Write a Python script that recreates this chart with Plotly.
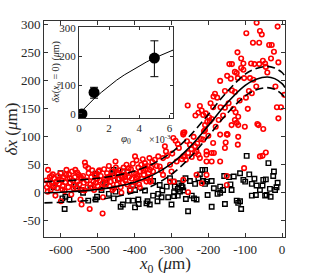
import plotly.graph_objects as go

# ---------------- data ----------------
red_x = [-640, -638, -635, -632, -630, -628, -625, -622, -620, -618, -615, -612, -610, -608, -605,
         -601, -600, -598, -595, -592, -590, -588, -585, -582, -580, -578, -575, -572, -570, -568,
         -565, -562, -561, -558, -555, -552, -550, -547, -545, -544, -542, -540, -538, -535, -533,
         -530, -528, -525, -522, -520, -518, -515, -512, -510, -508, -505, -502, -500, -498, -495,
         -492, -490, -487, -486, -483, -480, -478, -475, -472, -470, -468, -465, -462, -460, -458,
         -455, -452, -451, -448, -445, -442, -440, -438, -435, -432, -430, -428, -425, -422, -420,
         -418, -415, -412, -410, -408, -405, -402, -399, -397, -395, -392, -390, -388, -385, -382,
         -380, -378, -375, -372, -370, -368, -365, -362, -360, -358, -355, -352, -350,
         -69, -12, -97, -60, -55, -79, -62, -35, -28, -22, -121, -111, -143, -136, -105, -84, -75,
         -62, -52, -46, -44, -10, -111, -105, -123, -128, -149, -139, -168, -120, -103, -87, -78,
         -136, -128, -155, -182, -186, -176, -194, -187, -167, -155, -93, -256, -223, -218, -227,
         -214, -235, -207, -198, -203, -191, -126, -119, -128, -137, -119, -101, -67, -51, -3, -10,
         6, -14, -265, -149, -119, -123, -64,
         -148, -153, -120, -191, -185, -205, -205, -191, -60, -53, -44, -103, -150, -150,
         -289, -283, -268, -295, -318, -315, -336, -345, -268, -261, -255, -245, -236, -232, -227,
         -209, -209, -214, -300, -293, -255,
         -268, -250, -323, -372, -386, -359, -332, -304, -286, -264, -236, -223, -205, -187, -168,
         -150, -155, -168, -205, -232, -218, -268, -323, -304, -359, -395,
         -340, -328, -312, -298, -280, -272, -258, -246, -240, -230, -220, -212, -200, -196, -180,
         -172, -160, -145, -132, -115, -98, -90, -82, -70, -40, -30, -18,
         -636, -626, -616, -606, -596, -586, -576, -566, -556, -546, -536, -526, -516, -506, -496,
         -486, -476, -466, -456, -446, -436, -426, -416, -406, -396, -386, -376, -366, -356]
red_y = [22, 10, 41, 15, 28, 5, 18, 33, 12, 25, -5, 20, 8, 30, 16,
         35, -15, 22, 12, 28, 3, 19, 41, 25, 10, 33, 18, -3, 38, 22,
         14, 28, 41, 8, 20, 32, 15, -12, 25, -21, 5, 30, 18, 54, 48,
         22, 10, 35, -29, 15, 28, 40, 20, 5, 32, 18, 25, 12, 38, 22,
         30, 8, -37, 18, 42, 25, 15, 35, 28, 48, 12, 20, 38, 5, 30,
         22, 56, 45, 15, 33, 25, 40, 10, 28, 18, 45, 32, 22, 50, 15,
         38, 28, 5, 42, 25, 52, 35, 65, 20, 58, 30, 45, 15, 38, 50,
         25, 60, 32, 53, 42, 20, 48, 35, 62, 28, 45, 55, 38,
         304, 297, 285, 289, 283, 268, 268, 264, 264, 252, 251, 240, 230, 230, 231, 231, 230,
         230, 236, 231, 225, 233, 223, 220, 214, 216, 209, 204, 200, 205, 205, 205, 202,
         183, 180, 182, 177, 172, 170, 160, 153, 153, 152, 150, 156, 155, 147, 143,
         139, 138, 142, 135, 127, 132, 144, 136, 130, 121, 121, 118, 123, 114, 153, 133,
         175, 153, 108, 105, 100, 125, 121,
         104, 90, 86, 71, 71, 68, 56, 56, 65, 66, 72, 44, 30, 14,
         93, 87, 104, 98, 83, 74, 65, 59, 65, 59, 71, 64, 83, 74, 68,
         121, 112, 95, 38, 20, 1,
         107, 86, 62, 47, 38, 41, 47, 50, 56, 65, 71, 62, 74, 89, 104,
         104, 80, 56, 32, 32, 17, 23, 32, 20, 20, 26,
         48, 40, 66, 70, 80, 60, 92, 78, 100, 88, 96, 110, 102, 128, 118,
         130, 138, 160, 150, 165, 170, 182, 178, 190, 215, 240, 190,
         2, 30, 14, 24, 6, 32, 26, 8, 36, 28, 4, 44, 10, 30, 40,
         -8, 22, 30, 8, 36, 0, 28, 44, 12, 34, 10, 40, 26, 20]

black_x = [-601, -596, -588, -577, -560, -545, -526, -520, -506, -504, -502, -506, -480, -470,
           -461, -457, -457, -452, -445, -432, -432, -418, -413, -405, -399, -399, -390, -389,
           -372, -368, -365, -359, -350, -338, -336, -332, -327, -325, -313, -309, -304, -300,
           -295, -293, -293, -291, -283, -283, -280, -277, -273, -268, -262, -261, -255, -250,
           -245, -239, -236, -232, -227, -223, -216, -214, -209, -209, -205, -202, -191, -191,
           -175, -168, -168, -160, -157, -155, -144, -137, -131, -123, -119, -114, -114, -111,
           -105, -96, -89, -82, -82, -71, -69, -60, -53, -51, -46, -44, -42, -37, -33, -31,
           -24, -22, -19, -438, -404, -590, -620, -540, -490, -350, -270, -185, -140, -100,
           -75, -15, -12]
black_y = [35, -10, -7, -12, 12, 5, -14, 8, 34, 32, -7, -12, 18, -2,
           35, 41, -10, 2, 25, 38, -21, -14, 4, 14, 5, -26, -12, -20,
           4, -19, -15, -21, 21, -15, -2, 14, -8, 4, 11, -8, 26, -21,
           20, 1, -6, 11, 7, -5, 17, 2, 13, 4, 26, -11, -33, 21,
           -5, -10, 16, -12, 26, 33, 41, 21, 16, 41, 20, -4, 21, -25,
           -2, 11, 0, 5, 30, -20, 28, 5, 29, -14, -18, 35, -15, -29,
           23, 66, 33, 16, -5, -4, 13, 5, 13, 23, -5, 24, -4, 53, 7, -7,
           30, 38, 5, -25, -14, -29, 10, 0, 5, -5, 10, 8, 15, 20,
           25, 10, 18]

curve_x = [-645, -600, -550, -500, -450, -400, -350, -300, -250, -200, -150, -100, -70, -40, -20, 0, 8]
curve_mid = [0, 1, 3, 6, 11, 19, 32, 52, 82, 120, 160, 192, 203, 207, 204, 195, 188]
curve_up = [20, 21, 23, 26, 31, 39, 52, 72, 102, 140, 180, 212, 222, 226, 223, 215, 208]
curve_lo = [-18, -17, -15, -12, -7, 1, 13, 33, 63, 101, 141, 173, 184, 188, 185, 176, 169]

x_ticks = [-600, -500, -400, -300, -200, -100, 0]
x_ticktext = ["-600", "-500", "-400", "-300", "-200", "-100", "0"]
y_ticks = [-50, 0, 50, 100, 150, 200, 250, 300]
y_ticktext = ["-50", "0", "50", "100", "150", "200", "250", "300"]

# inset
phi = [0.2, 1.0, 5.0]
dx0 = [0, 75, 195]
dx0_err_plus = [5, 18, 60]
dx0_err_minus = [5, 20, 65]
fit_phi = [0, 0.5, 1, 1.5, 2, 2.5, 3, 3.5, 4, 4.5, 5, 5.5, 6, 6.25]
fit_dx0 = [0, 28, 53, 76, 98, 118, 136, 152, 168, 182, 195, 207, 218, 223]
inset_xticks = [0, 2, 4, 6]
inset_yticks = [0, 100, 200, 300]

# ---------------- figure ----------------
FONT = "Liberation Serif"
TXT = "#262626"
AX = "#333333"
fig = go.Figure()

fig.add_trace(go.Scatter(x=black_x, y=black_y, mode="markers",
                         marker=dict(symbol="square-open", color="black", size=4.5, line=dict(width=1.4)),
                         showlegend=False))
fig.add_trace(go.Scatter(x=red_x, y=red_y, mode="markers",
                         marker=dict(symbol="circle-open", color="#ff0000", size=4.5, line=dict(width=1.6)),
                         showlegend=False))
for ys, dash in [(curve_up, "8px,4px"), (curve_lo, "8px,4px"), (curve_mid, "solid")]:
    fig.add_trace(go.Scatter(x=curve_x, y=ys, mode="lines",
                             line=dict(color="black", width=1.6, dash=dash, shape="spline"),
                             showlegend=False))

# inset traces
fig.add_trace(go.Scatter(x=fit_phi, y=fit_dx0, mode="lines", line=dict(color="black", width=1),
                         xaxis="x2", yaxis="y2", showlegend=False))
fig.add_trace(go.Scatter(x=phi, y=dx0, mode="markers",
                         marker=dict(symbol="circle", color="black", size=11),
                         error_y=dict(type="data", symmetric=False, array=dx0_err_plus, arrayminus=dx0_err_minus,
                                      color="black", thickness=1, width=4),
                         xaxis="x2", yaxis="y2", showlegend=False))

axis_common = dict(ticks="inside", showline=True, linecolor=AX, linewidth=1, mirror="ticks",
                   showgrid=False, zeroline=False, tickcolor=AX, automargin=False)


def note(text, x, y, size, angle=0):
    return dict(text=text, x=x, y=y, xref="paper", yref="paper", showarrow=False, textangle=angle,
                xanchor="center", yanchor="middle", font=dict(size=size, family=FONT, color=TXT))


fig.update_layout(
    width=316, height=275,
    margin=dict(l=44, r=31, t=21, b=38, autoexpand=False),
    paper_bgcolor="white", plot_bgcolor="white",
    font=dict(family=FONT, color=TXT, size=13),
    xaxis=dict(range=[-646, 8], tickvals=x_ticks, ticktext=x_ticktext, ticklen=4,
               tickfont=dict(size=13, family=FONT, color=TXT), **axis_common),
    yaxis=dict(range=[-79, 307], tickvals=y_ticks, ticktext=y_ticktext, ticklen=4,
               tickfont=dict(size=13, family=FONT, color=TXT), **axis_common),
    xaxis2=dict(domain=[0.145, 0.535], anchor="y2", range=[0, 6.23], tickvals=inset_xticks, ticklen=3,
                tickfont=dict(size=11, family=FONT, color=TXT), **axis_common),
    yaxis2=dict(domain=[0.551, 0.972], anchor="x2", range=[-14, 303], tickvals=inset_yticks, ticklen=3,
                tickfont=dict(size=11, family=FONT, color=TXT), **axis_common),
    annotations=[
        note("<i>x</i><sub>0</sub> (<i>μ</i>m)", 0.5, -0.128, 17),
        note("<i>δx</i> (<i>μ</i>m)", -0.135, 0.5, 17, -90),
        note("<i>δx</i>(<i>x</i><sub>0</sub> = 0) (<i>μ</i>m)", 0.05, 0.762, 10, -90),
        note("<i>φ</i><sub>0</sub>", 0.340, 0.455, 11),
        note("×10<sup>-3</sup>", 0.482, 0.455, 10),
    ],
    shapes=[dict(type="rect", xref="x2 domain", yref="y2 domain", x0=0, x1=1, y0=0, y1=1,
                 fillcolor="white", line=dict(width=0), layer="below")],
)

fig.write_html("out.html", config={"displayModeBar": False},
               post_script="document.body.style.margin='0';document.body.style.overflow='hidden';")
